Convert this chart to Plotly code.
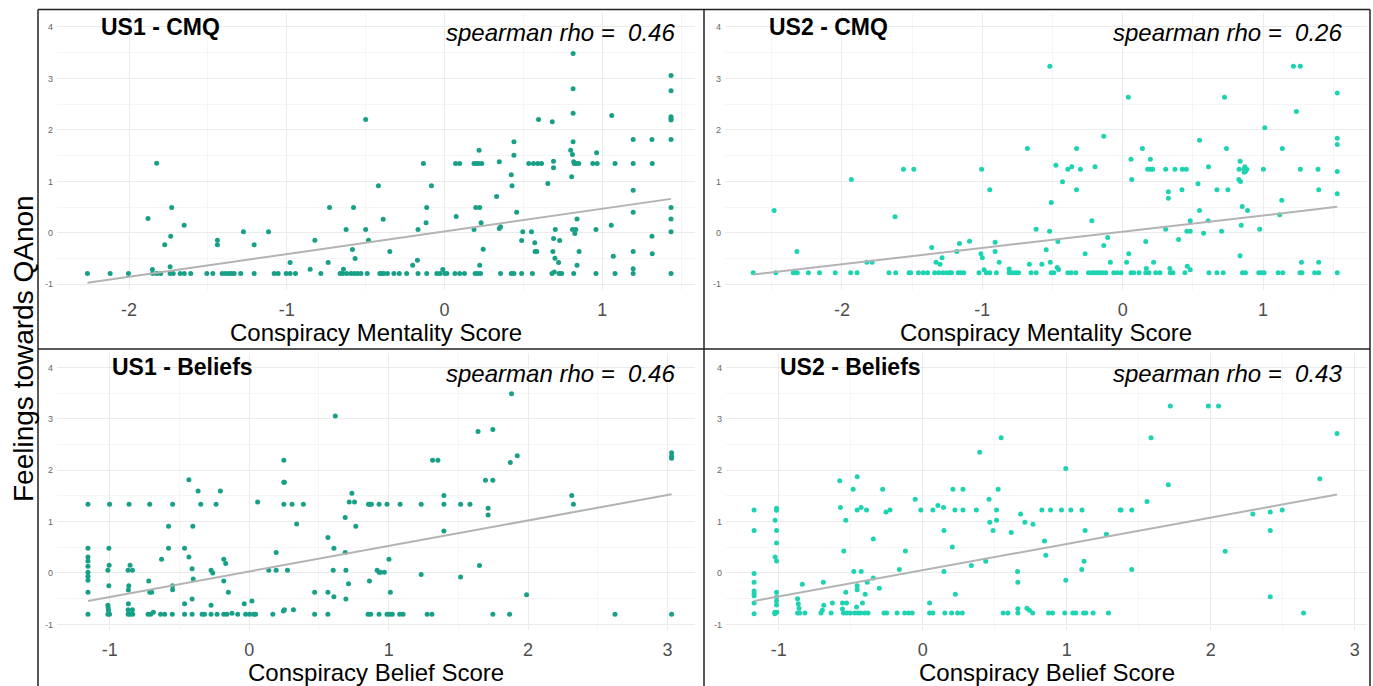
import plotly.graph_objects as go

# ---------------- data ----------------
us1_cmq_points = [
    (-2.264,-0.79),(-2.12,-0.79),(-2.004,-0.79),(-1.88,0.28),(-1.852,-0.71),(-1.85,-0.79),(-1.824,-0.79),(-1.80,-0.79),(-1.825,1.35),(-1.774,-0.23),
    (-1.736,-0.065),(-1.73,0.49),(-1.74,-0.66),(-1.74,-0.79),(-1.72,-0.79),(-1.676,-0.79),(-1.65,-0.79),(-1.651,0.149),(-1.609,-0.79),(-1.507,-0.79),
    (-1.469,-0.79),(-1.44,-0.142),(-1.44,-0.233),(-1.41,-0.79),(-1.389,-0.79),(-1.368,-0.79),(-1.351,-0.79),(-1.334,-0.79),(-1.292,-0.79),(-1.275,0.019),
    (-1.207,-0.233),(-1.207,-0.79),(-1.116,0.019),(-1.08,-0.79),(-1.055,-0.79),(-1.004,-0.79),(-0.979,-0.79),(-0.945,-0.79),(-0.979,-0.576),(-0.852,-0.705),
    (-0.822,-0.142),(-0.784,-0.79),(-0.729,0.49),(-0.738,-0.576),(-0.662,-0.79),(-0.645,-0.79),(-0.641,-0.705),(-0.624,0.065),(-0.62,-0.79),(-0.594,-0.79),
    (-0.573,-0.79),(-0.552,-0.79),(-0.53,-0.79),(-0.584,-0.324),(-0.577,0.49),(-0.567,-0.498),(-0.5,2.2),(-0.5,0.065),(-0.49,-0.79),(-0.482,-0.142),
    (-0.419,0.913),(-0.41,-0.79),
    (-0.389,0.266),(-0.402,-0.79),(-0.385,-0.79),(-0.362,-0.79),(-0.321,-0.79),(-0.287,-0.79),(-0.24,-0.79),(-0.347,-0.363),(-0.202,-0.628),(-0.172,-0.531),
    (-0.168,0.065),(-0.168,-0.79),(-0.134,1.347),(-0.113,0.492),(-0.117,0.194),(-0.113,-0.79),(-0.083,0.913),(-0.049,-0.79),(-0.028,-0.79),(-0.011,-0.712),
    (0.002,-0.79),(0.015,-0.79),(0.066,-0.79),(0.096,-0.79),(0.126,-0.79),(0.074,0.317),(0.07,1.347),(0.096,1.347),(0.187,1.347),(0.202,1.347),
    (0.217,1.347),(0.236,1.347),(0.219,1.606),(0.198,0.49),(0.223,0.49),(0.187,0.065),(0.232,0.194),(0.245,-0.317),(0.223,-0.628),(0.194,-0.79),
    (0.211,-0.79),(0.228,-0.79),(0.33,0.706),(0.347,1.38),(0.347,0.084),(0.355,0.117),(0.355,-0.79),(0.423,1.127),(0.428,0.913),(0.44,1.509),
    (0.44,1.768),(0.457,0.402),(0.423,-0.79),(0.44,-0.79),(0.489,-0.79),(0.489,-0.149),(0.496,0.019),(0.534,1.347),(0.564,1.347),(0.591,1.347),
    (0.615,1.347),(0.551,0.019),(0.557,-0.79),(0.572,-0.194),(0.574,-0.363),(0.585,-0.363),(0.596,2.2),(0.655,0.958),(0.683,2.157),(0.691,1.392),
    (0.691,1.263),(0.702,0.065),(0.691,-0.11),(0.73,-0.149),(0.687,-0.363),(0.7,-0.492),(0.723,-0.576),(0.681,-0.79),(0.696,-0.76),(0.726,-0.79),
    (0.743,-0.79),(0.815,3.484),(0.815,2.8),(0.815,2.325),(0.815,1.768),(0.8,1.606),(0.811,1.522),(0.806,1.088),(0.819,1.38),(0.834,1.347),
    (0.851,1.347),(0.823,1.347),(0.811,0.065),(0.832,0.065),(0.84,0.27),(0.826,-0.013),(0.853,-0.363),(0.84,-0.628),(0.819,-0.79),(0.964,1.554),
    (0.94,1.347),(0.968,1.347),(0.96,0.065),(0.96,-0.79),(1.06,2.28),(1.057,0.149),(1.07,-0.453),(1.081,1.347),(1.081,-0.79),(1.196,1.813),
    (1.196,1.347),(1.196,0.829),(1.196,0.402),(1.196,-0.363),(1.196,-0.699),(1.196,-0.79),(1.315,1.813),(1.317,1.347),(1.315,-0.065),(1.317,-0.408),
    (1.436,3.057),(1.436,2.759),(1.436,2.254),(1.436,2.22),(1.436,2.19),(1.436,1.813),(1.436,0.49),(1.436,0.27),(1.436,0.019),(1.436,-0.79),
]

us2_cmq_points = [
    (-2.632,-0.777),(-2.483,0.434),(-2.471,-0.777),(-2.321,-0.363),(-2.347,-0.777),(-2.333,-0.777),(-2.318,-0.777),(-2.239,-0.777),(-2.16,-0.777),(-2.048,-0.777),
    (-1.933,1.036),(-1.938,-0.777),(-1.892,-0.777),(-1.823,-0.57),(-1.785,-0.57),(-1.665,-0.777),(-1.617,-0.777),(-1.622,0.311),(-1.562,1.237),(-1.488,1.237),
    (-1.522,-0.777),(-1.51,-0.777),(-1.455,-0.777),(-1.421,-0.777),(-1.39,-0.777),(-1.361,-0.285),(-1.33,-0.57),(-1.301,-0.609),(-1.287,-0.486),(-1.34,-0.777),
    (-1.311,-0.777),(-1.282,-0.777),(-1.258,-0.777),(-1.234,-0.777),(-1.22,-0.777),(-1.182,-0.363),(-1.163,-0.207),(-1.172,-0.777),(-1.153,-0.777),(-1.132,-0.777),
    (-1.091,-0.162),(-1.024,-0.777),(-1.01,-0.408),(-1.0,-0.486),(-1.005,1.237),(-0.988,-0.719),(-0.971,-0.777),(-0.947,-0.777),(-0.947,0.835),(-0.909,-0.363),
    (-0.909,-0.181),(-0.88,-0.57),(-0.9,-0.777),(-0.809,-0.7),(-0.809,-0.777),(-0.785,-0.777),(-0.761,-0.777),(-0.742,-0.777),(-0.679,1.639),(-0.665,-0.609),
    (-0.653,-0.777),(-0.617,-0.777),(-0.617,0.071),
    (-0.576,-0.609),(-0.545,-0.33),(-0.519,3.238),(-0.509,0.589),(-0.521,0.032),(-0.516,-0.57),(-0.509,-0.777),(-0.491,-0.777),(-0.476,1.315),(-0.467,-0.674),
    (-0.457,-0.712),(-0.462,-0.168),(-0.429,0.991),(-0.391,1.237),(-0.363,1.282),(-0.391,-0.777),(-0.367,-0.777),(-0.334,-0.777),(-0.329,1.639),(-0.329,0.835),
    (-0.301,1.237),(-0.268,-0.408),(-0.244,-0.777),(-0.22,-0.777),(-0.201,-0.777),(-0.182,-0.777),(-0.164,-0.777),(-0.145,-0.777),(-0.121,-0.777),(-0.22,0.233),
    (-0.197,1.282),(-0.135,1.878),(-0.135,-0.246),(-0.107,-0.091),(-0.088,-0.57),(-0.064,-0.777),(-0.04,-0.777),(-0.012,-0.777),(0.028,-0.57),(0.04,2.636),
    (0.043,-0.408),(0.059,1.431),(0.064,1.036),(0.059,-0.777),(0.078,-0.777),(0.116,-0.777),(0.14,1.639),(0.164,-0.168),(0.168,-0.693),(0.164,-0.777),
    (0.187,-0.777),(0.197,1.431),(0.178,1.237),(0.197,1.237),(0.213,1.237),(0.22,-0.57),(0.235,-0.777),(0.265,-0.777),(0.306,1.237),(0.306,0.071),
    (0.325,0.796),(0.325,0.674),(0.336,-0.693),(0.339,-0.777),(0.358,-0.777),(0.372,1.237),(0.424,1.237),(0.453,1.237),(0.398,-0.13),(0.422,0.835),
    (0.443,-0.777),(0.46,-0.648),(0.481,-0.719),(0.457,0.032),(0.481,0.032),(0.481,0.233),(0.536,0.952),(0.547,1.8),(0.547,0.434),(0.576,-0.006),
    (0.611,1.282),(0.609,0.233),(0.614,-0.777),(0.671,-0.777),(0.716,-0.777),(0.671,0.835),(0.704,0.032),(0.725,2.636),(0.739,1.639),(0.749,0.835),
    (0.836,1.392),(0.829,1.237),(0.863,1.237),(0.827,1.036),(0.839,0.997),(0.851,0.512),(0.844,0.149),(0.889,0.434),(0.836,-0.447),(0.853,-0.777),
    (0.874,-0.777),(0.87,1.282),(0.874,1.192),(0.884,1.237),(0.865,1.179),(0.976,0.071),(1.002,1.237),(1.012,2.04),(0.969,-0.777),(0.988,-0.777),
    (1.007,-0.777),(1.118,0.35),(1.133,0.635),(1.137,1.639),(1.107,-0.777),(1.14,-0.777),(1.216,3.238),(1.265,3.238),(1.237,2.357),(1.265,1.237),
    (1.273,-0.57),(1.263,-0.777),(1.277,-0.777),(1.391,1.237),(1.396,0.835),(1.396,-0.57),(1.367,-0.777),(1.396,-0.777),(1.528,2.714),(1.528,1.839),
    (1.528,1.716),(1.528,1.192),(1.528,0.758),(1.528,-0.777),
]

us1_bel_points = [
    (-1.157,1.338),(-1.157,0.481),(-1.157,0.312),(-1.157,0.234),(-1.157,0.13),(-1.157,0.013),(-1.157,-0.065),(-1.157,-0.143),(-1.157,-0.377),(-1.157,-0.805),
    (-1.002,1.338),(-1.007,0.481),(-1.005,0.149),(-1.014,0.052),(-1.007,-0.247),(-1.014,-0.63),(-1.012,-0.675),(-1.01,-0.727),(-1.014,-0.805),(-1.002,-0.805),
    (-0.862,1.338),(-0.855,0.149),(-0.869,0.052),(-0.838,0.052),(-0.864,-0.247),(-0.867,-0.331),(-0.867,-0.597),(-0.869,-0.714),(-0.838,-0.714),(-0.869,-0.805),
    (-0.855,-0.805),(-0.836,-0.805),
    (-0.714,1.338),(-0.721,-0.156),(-0.714,-0.377),(-0.7,-0.377),(-0.726,-0.805),(-0.707,-0.805),(-0.688,-0.766),(-0.629,0.266),(-0.636,-0.805),(-0.607,-0.805),
    (-0.579,0.909),(-0.579,0.481),(-0.55,1.338),(-0.55,-0.247),(-0.55,-0.325),(-0.552,-0.805),(-0.464,0.481),(-0.464,-0.597),(-0.464,-0.805),(-0.433,1.812),
    (-0.433,0.312),(-0.41,0.084),(-0.405,0.909),(-0.41,-0.506),(-0.402,-0.117),(-0.41,-0.805),(-0.367,1.597),(-0.348,1.338),(-0.338,-0.805),(-0.321,-0.805),
    (-0.274,0.052),(-0.262,0.0),(-0.274,-0.805),(-0.231,-0.805),(-0.274,-0.63),(-0.238,1.338),(-0.207,1.597),(-0.183,0.266),(-0.169,0.182),(-0.183,-0.156),
    (-0.183,-0.805),(-0.16,-0.805),(-0.15,-0.377),(-0.124,-0.786),(-0.083,-0.805),(-0.036,-0.597),(-0.026,-0.805),(0.002,-0.805),(0.031,-0.805),(0.045,-0.805),
    (0.019,-0.545),(0.06,1.383),(0.14,0.052),(0.169,-0.805),(0.193,0.396),(0.193,0.052),(0.248,2.195),(0.248,1.766),(0.252,1.766),(0.248,1.338),
    (0.245,-0.74),(0.252,-0.714),(0.274,0.052),(0.307,1.338),(0.317,-0.714),(0.34,0.955),(0.388,1.338),(0.469,-0.377),(0.469,-0.805),(0.564,0.688),
    (0.564,-0.377),(0.564,-0.805),(0.617,3.052),(0.607,0.481),(0.602,0.052),(0.607,-0.461),(0.688,1.078),(0.688,0.396),(0.693,0.052),(0.693,-0.506),
    (0.712,-0.208),(0.717,1.383),(0.736,1.552),(0.755,1.383),(0.764,0.909),(0.855,1.338),(0.864,1.338),(0.876,1.338),(0.931,1.338),(0.862,-0.156),
    (0.852,-0.805),(0.871,-0.805),(0.917,0.052),(0.931,0.013),(0.931,-0.805),
    (0.988,1.338),(1.082,1.338),(1.233,1.338),(1.396,1.338),(1.396,1.506),(1.396,0.818),(1.516,1.338),(1.583,1.338),(1.315,2.195),(1.353,2.195),
    (1.641,2.753),(1.747,2.792),(1.881,3.487),(1.694,1.805),(1.747,1.805),(1.713,1.26),(1.713,1.13),(1.872,2.149),(1.922,2.279),(2.313,1.506),
    (2.325,1.338),(3.029,2.338),(3.029,2.273),(3.029,2.234),(1.002,0.266),(0.94,0.013),(0.969,0.013),(1.012,-0.377),(1.233,-0.032),(1.516,-0.078),
    (1.651,0.143),(1.989,-0.422),(0.988,-0.805),(1.007,-0.805),(1.026,-0.805),(1.079,-0.805),(1.103,-0.805),(1.276,-0.805),(1.31,-0.805),(1.747,-0.805),
    (1.867,-0.805),(2.623,-0.805),(3.029,-0.805),
]

us2_bel_points = [
    (-1.172,1.227),(-1.172,0.825),(-1.172,-0.013),(-1.172,-0.182),(-1.172,-0.351),(-1.172,-0.403),(-1.172,-0.442),(-1.172,-0.584),(-1.172,-0.792),
    (-1.016,1.26),(-1.016,1.221),(-1.026,1.026),(-1.016,0.825),(-1.016,0.584),(-1.026,0.312),(-1.016,0.234),(-1.016,-0.377),(-1.016,-0.468),(-1.016,-0.545),
    (-1.016,-0.623),(-1.028,-0.766),(-1.014,-0.766),(-1.028,-0.792),
    (-0.87,-0.5),(-0.865,-0.597),(-0.86,-0.688),(-0.87,-0.779),(-0.856,-0.779),(-0.819,-0.779),(-0.837,-0.221),(-0.707,-0.779),(-0.698,-0.727),(-0.691,-0.182),
    (-0.688,-0.63),(-0.637,-0.779),(-0.628,-0.584),(-0.577,1.792),(-0.572,1.273),(-0.549,0.429),(-0.535,1.026),(-0.535,-0.377),(-0.558,-0.584),(-0.53,-0.584),
    (-0.558,-0.701),(-0.551,-0.779),(-0.528,-0.779),(-0.505,-0.779),(-0.484,1.63),(-0.479,0.026),(-0.456,1.87),(-0.456,1.227),(-0.428,1.273),(-0.391,1.227),
    (-0.456,-0.247),(-0.456,-0.325),(-0.46,-0.662),(-0.451,-0.779),(-0.474,-0.779),(-0.433,-0.779),(-0.405,-0.779),(-0.381,-0.779),(-0.428,0.026),(-0.419,-0.584),
    (-0.4,-0.416),(-0.386,-0.182),(-0.344,0.662),(-0.344,-0.097),(-0.302,-0.299),(-0.279,1.63),(-0.256,1.188),(-0.228,1.227),(-0.27,-0.779),(-0.251,-0.779),
    (-0.179,-0.779),(-0.163,0.065),(-0.121,0.429),(-0.126,-0.779),(-0.098,-0.779),(-0.074,-0.779),(-0.053,1.435),(-0.014,1.227),(0.047,-0.584),(0.047,-0.779),
    (0.07,-0.779),(0.07,1.227),(0.105,1.312),(0.144,1.273),(0.147,0.825),(0.147,0.026),(0.153,-0.779),(0.205,0.506),(0.209,1.63),(0.279,1.63),
    (0.223,1.227),(0.279,1.227),(0.226,-0.416),(0.2,-0.779),(0.242,-0.779),(0.274,-0.779),(0.337,0.143),(0.372,1.227),(0.395,2.351),(0.437,0.227),
    (0.46,1.435),(0.465,0.987),(0.488,0.825),(0.512,1.227),(0.512,1.026),(0.523,1.63),(0.544,2.63),(0.558,-0.779),(0.591,-0.779),(0.614,0.786),
    (0.658,0.026),(0.66,-0.182),(0.66,-0.695),(0.66,-0.779),(0.679,1.149),(0.709,0.987),(0.723,-0.688),(0.74,-0.727),(0.763,-0.779),(0.765,0.948),
    (0.827,1.227),(0.887,1.227),(0.845,0.623),(0.854,0.344),(0.873,-0.779),(0.901,-0.779),(0.963,1.227),(1.028,1.227),(1.106,1.227),(0.993,2.032),
    (0.993,-0.143),(0.986,-0.779),(1.042,-0.779),(1.062,-0.779),(1.116,-0.779),(1.132,-0.779),(1.183,-0.779),(1.127,0.825),(1.12,0.227),(1.104,0.065),
    (1.275,0.753),(1.289,-0.779),(1.37,1.227),(1.377,1.227),(1.451,1.227),(1.451,0.065),(1.557,1.39),(1.585,2.63),(1.705,1.714),(1.719,3.247),
    (1.983,3.247),(2.054,3.247),(2.1,0.422),(2.292,1.149),(2.413,1.188),(2.413,0.825),(2.413,-0.461),(2.496,1.227),(2.644,-0.779),(2.757,1.831),
    (2.877,2.714),
]

# fitted regression line end points
us1_cmq_fit_x = [-2.264, 1.436]
us1_cmq_fit_y = [-0.97, 0.66]
us2_cmq_fit_x = [-2.632, 1.528]
us2_cmq_fit_y = [-0.81, 0.505]
us1_bel_fit_x = [-1.157, 3.029]
us1_bel_fit_y = [-0.545, 1.532]
us2_bel_fit_x = [-1.172, 2.877]
us2_bel_fit_y = [-0.545, 1.526]

panel_titles = ["US1 - CMQ", "US2 - CMQ", "US1 - Beliefs", "US2 - Beliefs"]
rho_values = ["0.46", "0.26", "0.46", "0.43"]
x_titles = ["Conspiracy Mentality Score", "Conspiracy Mentality Score",
            "Conspiracy Belief Score", "Conspiracy Belief Score"]
y_title = "Feelings towards QAnon"

cmq_ticks = [-2, -1, 0, 1]
bel_ticks = [-1, 0, 1, 2, 3]
y_ticks = [-1, 0, 1, 2, 3, 4]

# ---------------- layout helpers ----------------
W, H = 1373, 686
FONT = "Liberation Sans, Arial, Helvetica, sans-serif"
US1_COL = "#17A087"
US2_COL = "#1DD3B1"
LINE_COL = "#b3b3b3"
GRID = "#ebebeb"
MINOR = "#f5f5f5"


def px(x):
    return x / W


def py(y):
    return 1 - y / H


def lab(v):
    return str(v).replace("\u2212", "-")


# pixel geometry of each panel: (left, right, top, bottom), x range, y range
panels = [
    dict(pts=us1_cmq_points, fx=us1_cmq_fit_x, fy=us1_cmq_fit_y, col=US1_COL,
         box=(57, 695, 13, 290), xr=[-2.457, 1.588], yr=[-1.11, 4.27], ticks=cmq_ticks,
         title_xy=(99, 27), rho_xy=(677, 32)),
    dict(pts=us2_cmq_points, fx=us2_cmq_fit_x, fy=us2_cmq_fit_y, col=US2_COL,
         box=(725, 1367, 13, 290), xr=[-2.833, 1.74], yr=[-1.11, 4.27], ticks=cmq_ticks,
         title_xy=(767, 27), rho_xy=(1344, 32)),
    dict(pts=us1_bel_points, fx=us1_bel_fit_x, fy=us1_bel_fit_y, col=US1_COL,
         box=(57, 695, 353, 630), xr=[-1.379, 3.197], yr=[-1.11, 4.28], ticks=bel_ticks,
         title_xy=(110, 367), rho_xy=(677, 373)),
    dict(pts=us2_bel_points, fx=us2_bel_fit_x, fy=us2_bel_fit_y, col=US2_COL,
         box=(726, 1367, 353, 630), xr=[-1.367, 3.085], yr=[-1.11, 4.28], ticks=bel_ticks,
         title_xy=(778, 367), rho_xy=(1344, 373)),
]

fig = go.Figure()
layout = dict(
    width=W, height=H, margin=dict(l=0, r=0, t=0, b=0),
    paper_bgcolor="white", plot_bgcolor="white", showlegend=False,
    font=dict(family=FONT, color="black"),
)
annotations = []
shapes = []

for i, p in enumerate(panels):
    n = "" if i == 0 else str(i + 1)
    xs = [a for a, b in p["pts"]]
    ys = [b for a, b in p["pts"]]
    fig.add_trace(go.Scatter(x=xs, y=ys, mode="markers", xaxis="x" + n, yaxis="y" + n,
                             marker=dict(color=p["col"], size=5, line=dict(width=0)),
                             hoverinfo="skip"))
    fig.add_trace(go.Scatter(x=p["fx"], y=p["fy"], mode="lines", xaxis="x" + n, yaxis="y" + n,
                             line=dict(color=LINE_COL, width=2), hoverinfo="skip"))
    l, r, t, b = p["box"]
    x0, x1 = p["xr"]
    y0, y1 = p["yr"]
    xminor = [k + 0.5 for k in range(int(x0) - 2, int(x1) + 2) if x0 <= k + 0.5 <= x1]
    yminor = [k + 0.5 for k in range(-2, 5)]
    layout["xaxis" + n] = dict(
        domain=[px(l), px(r)], range=p["xr"], anchor="y" + n,
        tickmode="array", tickvals=p["ticks"], ticktext=[lab(v) for v in p["ticks"]],
        showgrid=True, gridcolor=GRID, gridwidth=1.3, zeroline=False, showline=False, ticks="",
        tickfont=dict(size=18, color="#4d4d4d", family=FONT), ticklabelstandoff=7,
        minor=dict(tickmode="array", tickvals=xminor, showgrid=True, gridcolor=MINOR, gridwidth=1),
        fixedrange=True,
    )
    layout["yaxis" + n] = dict(
        domain=[py(b), py(t)], range=p["yr"], anchor="x" + n,
        tickmode="array", tickvals=y_ticks, ticktext=[lab(v) for v in y_ticks],
        showgrid=True, gridcolor=GRID, gridwidth=1.3, zeroline=False, showline=False, ticks="",
        tickfont=dict(size=9, color="#666666", family=FONT), ticklabelstandoff=3,
        minor=dict(tickmode="array", tickvals=yminor, showgrid=True, gridcolor=MINOR, gridwidth=1),
        fixedrange=True,
    )
    # panel title
    annotations.append(dict(text="<b>" + panel_titles[i] + "</b>", xref="paper", yref="paper",
                            x=px(p["title_xy"][0]), y=py(p["title_xy"][1]),
                            xanchor="left", yanchor="middle", showarrow=False,
                            font=dict(size=23, color="black", family=FONT)))
    # spearman rho
    annotations.append(dict(text="<i>spearman rho = \u00a0" + rho_values[i] + "</i>",
                            xref="paper", yref="paper",
                            x=px(p["rho_xy"][0]), y=py(p["rho_xy"][1]),
                            xanchor="right", yanchor="middle", showarrow=False,
                            font=dict(size=24, color="black", family=FONT)))
    # x axis title
    annotations.append(dict(text=x_titles[i], xref="paper", yref="paper",
                            x=px((l + r) / 2), y=py(b + 42),
                            xanchor="center", yanchor="middle", showarrow=False,
                            font=dict(size=24, color="black", family=FONT)))

# shared y title
annotations.append(dict(text=y_title, xref="paper", yref="paper", x=px(23), y=py(349),
                        xanchor="center", yanchor="middle", textangle=-90, showarrow=False,
                        font=dict(size=28, color="black", family=FONT)))

# panel borders
border = dict(color="#222222", width=1.5)
for (xa, ya, xb, yb) in [(38, 9.5, 1370, 9.5), (38, 9.5, 38, 686), (704, 9.5, 704, 686),
                         (38, 349, 1370, 349), (1370, 9.5, 1370, 686)]:
    shapes.append(dict(type="line", xref="paper", yref="paper",
                       x0=px(xa), y0=py(ya), x1=px(xb), y1=py(yb), line=border))

layout["annotations"] = annotations
layout["shapes"] = shapes
fig.update_layout(**layout)
fig.write_html("out.html", config={"displayModeBar": False},
               post_script="document.body.style.margin='0px';document.body.style.overflow='hidden';")
